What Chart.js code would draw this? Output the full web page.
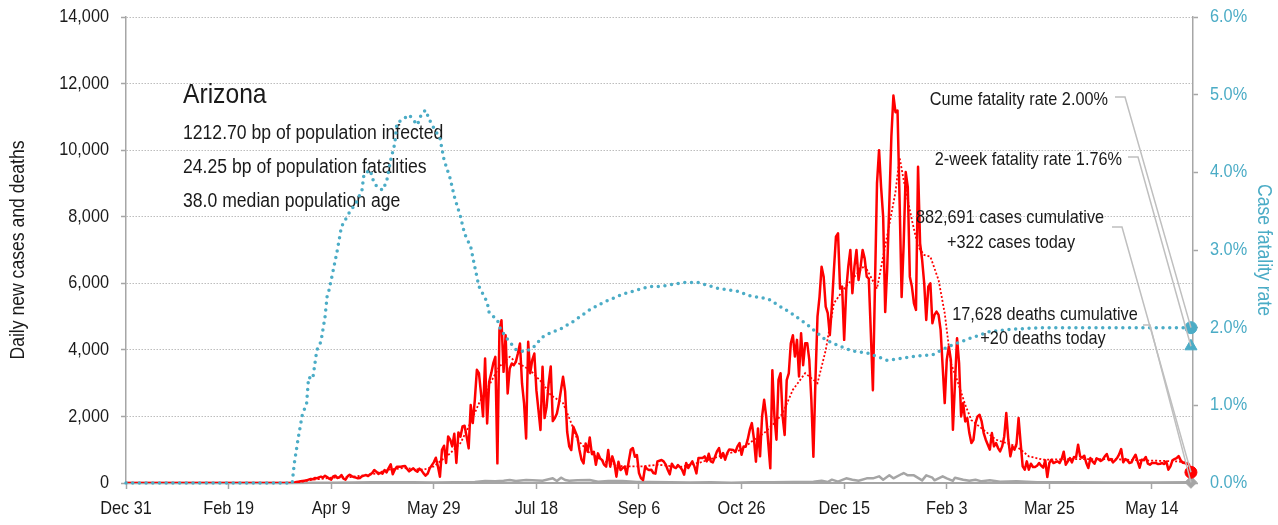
<!DOCTYPE html>
<html>
<head>
<meta charset="utf-8">
<title>Arizona - daily cases, deaths and case fatality rate</title>
<script src="https://cdn.jsdelivr.net/npm/chart.js@4.4.1/dist/chart.umd.min.js"></script>
<style>
  html, body { margin: 0; padding: 0; background: #fff; }
  #wrap { width: 1278px; height: 525px; }
</style>
</head>
<body>
<div id="wrap"><canvas id="covidChart" width="1278" height="525"></canvas></div>
<script>
// day 0 = Dec 31 2019, one tick every 50 days
const tickDays = [0, 50, 100, 150, 200, 250, 300, 350, 400, 450, 500];
const tickLabels = ['Dec 31', 'Feb 19', 'Apr 9', 'May 29', 'Jul 18', 'Sep 6', 'Oct 26', 'Dec 15', 'Feb 3', 'Mar 25', 'May 14'];
const lastDay = 519;

// daily new cases, one value per day starting at firstCaseDay (zero before)
const firstCaseDay = 82;
const newCases = [
  10, 30, 40, 50, 60, 70, 80, 100, 120, 110,
  150, 140, 170, 190, 160, 220, 180, 130, 100, 200,
  220, 150, 170, 240, 130, 100, 200, 250, 210, 180,
  160, 140, 150, 200, 220, 240, 210, 260, 300, 390,
  340, 270, 310, 280, 390, 320, 450,
  560, 260, 400, 490, 490, 490, 500, 510, 420, 350,
  400, 440, 380, 340, 430, 380, 290, 220, 280, 440,
  530, 620, 760, 500, 190, 1000, 1120, 600, 1400, 1300,
  1100, 1480, 600, 1520, 1390, 1700, 1720, 1400, 1040, 2340,
  1800, 2500, 3400, 3300, 2700, 2000, 3740, 1790, 3040, 3300,
  3600, 3790, 590, 4600, 4890, 3340, 4440, 2690, 3440, 3590,
  3540, 3640, 3900, 4190, 2990, 2390, 1340, 4240, 3300, 3700,
  3890, 2790, 2200, 1590, 3490, 1950, 2300, 3000, 3500, 1860,
  1950, 2090, 2400, 2800, 3190, 2750, 1540, 1100, 990, 1690,
  1540, 1390, 990, 700, 590, 1190, 940, 1370, 890, 940,
  550, 890, 750, 690, 550, 490, 990, 490, 800, 600,
  190, 640, 390, 450, 490, 260, 650, 1000, 1050, 790,
  840, 300, 140, 90, 490, 420, 390, 400, 300, 280, 650,
  670, 690, 650, 560, 400, 260, 580, 480, 450, 540,
  480, 400, 250, 600, 450, 550, 650, 500, 290, 750,
  750, 750, 800, 650, 880, 650, 620, 780, 950, 1050,
  760, 900, 700, 900, 1010, 1000, 990, 930, 1100, 1200,
  850, 1100, 1090, 1310, 1600, 1800, 1340, 640, 1640, 800,
  2000, 2500, 2000, 1200, 440, 3390, 2000, 1300, 3100, 3300,
  2000, 1440, 3090, 3290, 4200, 4440, 3800, 4300, 3200, 4500,
  3540, 4200, 4200, 3700, 2500, 790, 3090, 5000, 5600, 6500,
  6200, 5300, 5100, 4440, 5300, 6400, 7400, 7500, 5840, 5900,
  4300, 5800, 6500, 7000, 5700, 6500, 7000, 6100, 6500, 7000,
  6740, 6200, 6140, 4500, 2790, 5900, 9000, 10000, 8880, 8000,
  5140, 6490, 8390, 10400, 11640, 11140, 11190, 8500, 5590, 7190,
  9340, 8890, 6200, 5900, 5400, 5200, 9500,
  7200, 6700, 6000, 4900, 5900, 6000, 4800, 5050, 5150, 5050,
  4600, 3500, 2400, 3700, 4100, 3700, 1600, 3000, 4350, 3600,
  2000, 2400, 1850, 1950, 1500, 1200, 1300, 1800, 2000, 2050,
  1850, 1500, 1300, 1150, 1000, 1500, 1100, 1200, 1050, 950,
  1100, 1400, 2100, 1300, 800, 1100, 1000, 1180, 1950, 1200,
  500, 400, 650, 400, 580, 480, 480, 520, 600, 520,
  460, 680, 180, 600, 700, 600, 630, 650, 600, 720,
  940, 550, 650, 750, 620, 780, 770, 1150, 800, 760,
  820, 600, 450, 750, 650, 580, 740, 710, 660, 700,
  800, 870, 690, 720, 620, 680, 750, 860, 1020, 620,
  720, 680, 600, 620, 750, 850, 650, 460, 700, 690,
  780, 580, 550, 600, 600, 600, 570, 580, 600, 570,
  640, 400, 500, 680, 720, 750, 810, 680, 610, 600,
  580, 560, 322
];

// 7-day average of new cases (read at turning points)
const avgDays = [0, 82, 90, 100, 110, 120, 128, 135, 145, 150, 158, 163, 167, 172, 177, 182, 187, 190, 197, 203,
  207, 213, 217, 220, 226, 233, 242, 252, 259, 270, 280, 290, 300, 306, 311, 316, 320, 325, 331, 337,
  341, 345, 350, 355, 360, 366, 371, 375, 377, 379, 383, 386, 389, 392, 396, 399, 402, 405, 409, 412,
  418, 424, 434, 440, 447, 463, 479, 496, 512, 519];
const avgCases = [0, 0, 90, 160, 180, 260, 400, 450, 400, 500, 890, 1200, 1690, 2390, 2940, 3500, 3790, 3640, 3390, 3000,
  2640, 2400, 1800, 1300, 900, 650, 500, 500, 550, 480, 620, 820, 1000, 1300, 1500, 1800, 2090, 2800, 3300, 3000,
  3990, 5400, 5840, 6200, 6540, 5840, 7440, 8740, 9780, 9100, 7900, 7100, 6850, 6800, 6100, 5100, 3600, 3100, 2350, 1890,
  1590, 1300, 1100, 800, 700, 720, 720, 680, 650, 600];

// daily new deaths
const deathDays = [0, 80, 90, 100, 110, 120, 130, 140, 150, 160, 170, 175, 180, 184, 187, 190, 195, 198, 203, 208,
  210, 212, 214, 216, 220, 226, 230, 235, 242, 249, 255, 265, 275, 285, 295, 305, 315, 325, 335, 339,
  342, 344, 347, 351, 354, 357, 361, 364, 367, 369, 372, 374, 378, 379, 381, 384, 388, 390, 393, 394,
  398, 400, 403, 404, 408, 411, 414, 417, 421, 426, 434, 444, 460, 480, 500, 519];
const newDeaths = [0, 0, 5, 10, 15, 20, 20, 20, 15, 20, 30, 60, 50, 70, 90, 60, 90, 80, 70, 140,
  60, 160, 90, 70, 80, 90, 40, 60, 60, 30, 30, 20, 15, 20, 10, 20, 25, 30, 40, 66,
  30, 100, 40, 140, 100, 66, 140, 140, 200, 100, 230, 140, 270, 300, 230, 230, 80, 230, 160, 80,
  200, 140, 66, 160, 100, 66, 100, 50, 80, 40, 50, 20, 20, 15, 15, 20];

// case fatality rate, percent (right axis)
const cfrDays = [0, 81, 82, 83, 84, 86, 88, 89, 91, 93, 95, 97, 98, 99, 101, 103, 105, 109, 112, 115,
  116, 119, 121, 125, 127, 129, 131, 132, 138, 142, 144, 146, 148, 150, 153, 155, 158, 160, 163, 165,
  168, 170, 172, 176, 177, 181, 182, 185, 190, 194, 198, 203, 208, 211, 218, 226, 233, 242, 255, 260,
  272, 279, 288, 298, 304, 313, 319, 324, 332, 336, 341, 348, 354, 362, 371, 379, 387, 393, 401, 411,
  421, 431, 447, 519];
const cfrPct = [0, 0, 0.25, 0.42, 0.59, 0.89, 1.02, 1.36, 1.34, 1.71, 1.82, 2.14, 2.40, 2.49, 2.74, 3.00, 3.30, 3.49, 3.60, 3.77,
  3.98, 4.03, 3.85, 3.77, 3.88, 4.16, 4.37, 4.63, 4.74, 4.61, 4.75, 4.80, 4.67, 4.57, 4.44, 4.16, 3.92, 3.69, 3.43, 3.21,
  3.04, 2.78, 2.53, 2.33, 2.19, 2.10, 2.01, 1.88, 1.72, 1.69, 1.73, 1.88, 1.95, 1.97, 2.08, 2.23, 2.33, 2.43, 2.53, 2.53,
  2.58, 2.58, 2.51, 2.47, 2.41, 2.37, 2.27, 2.19, 2.04, 1.95, 1.84, 1.76, 1.70, 1.67, 1.58, 1.61, 1.64, 1.65, 1.76, 1.86,
  1.95, 1.98, 2.00, 2.00];

const stateName = 'Arizona';
const infoLines = ['1212.70 bp of population infected', '24.25 bp of population fatalities', '38.0 median population age'];
const leftTitle = 'Daily new cases and deaths';
const rightTitle = 'Case fatality rate';
const cumeRate = 2.00;
const twoWeekRate = 1.76;
const cumCases = 882691;
const cumDeaths = 17628;
const casesToday = newCases[newCases.length - 1];
const deathsToday = newDeaths[newDeaths.length - 1];

// no condensed face installed, so text is drawn squeezed horizontally
const FONT = '"Liberation Sans", Arial, sans-serif';
const SQUEEZE = 0.88;
const INK = '#1a1a1a';
const RED = '#ff0000';
const TEAL = '#4bacc6';
const GRAY = '#a5a5a5';
const AXIS = '#a6a6a6';

function toPoints(xs, ys) {
    return xs.map((x, i) => ({ x: x, y: ys[i] }));
}

const casePoints = [{ x: 0, y: 0 }, { x: firstCaseDay - 1, y: 0 }]
    .concat(newCases.map((v, i) => ({ x: firstCaseDay + i, y: v })));

function fmt(n) {
    return n.toLocaleString('en-US');
}

function drawText(ctx, str, x, y, size, align, color, baseline, rotation) {
    ctx.save();
    ctx.translate(x, y);
    if (rotation) ctx.rotate(rotation);
    ctx.scale(SQUEEZE, 1);
    ctx.font = size + 'px ' + FONT;
    ctx.fillStyle = color;
    ctx.textAlign = align;
    ctx.textBaseline = baseline || 'alphabetic';
    ctx.fillText(str, 0, 0);
    ctx.restore();
}

function leader(ctx, x0, y0, x1, tx, ty) {
    ctx.beginPath();
    ctx.moveTo(x0, y0);
    ctx.lineTo(x1, y0);
    ctx.lineTo(tx, ty);
    ctx.stroke();
}

const textPlugin = {
    id: 'textBlocks',
    beforeDatasetsDraw(chart) {
        const ctx = chart.ctx;
        drawText(ctx, stateName, 183, 103, 28, 'left', INK);
        infoLines.forEach((t, i) => drawText(ctx, t, 183, 139 + i * 34, 20, 'left', INK));
    },
    afterDraw(chart) {
        const ctx = chart.ctx;
        const xs = chart.scales.x, y = chart.scales.y, y2 = chart.scales.y2;
        const area = chart.chartArea;

        // axis tick labels and titles
        xs.ticks.forEach(t => {
            drawText(ctx, tickLabels[tickDays.indexOf(t.value)], xs.getPixelForValue(t.value), 514, 18.5, 'center', INK);
        });
        y.ticks.forEach(t => {
            drawText(ctx, fmt(t.value), area.left - 17, y.getPixelForValue(t.value), 18.5, 'right', INK, 'middle');
        });
        y2.ticks.forEach(t => {
            drawText(ctx, t.value.toFixed(1) + '%', area.right + 17, y2.getPixelForValue(t.value), 18.5, 'left', TEAL, 'middle');
        });
        const midY = (area.top + area.bottom) / 2;
        drawText(ctx, leftTitle, 18, midY, 20, 'center', INK, 'middle', -Math.PI / 2);
        drawText(ctx, rightTitle, 1264, midY, 20, 'center', TEAL, 'middle', Math.PI / 2);

        // leader lines from the notes to the end markers
        const px = xs.getPixelForValue(lastDay);
        ctx.save();
        ctx.strokeStyle = '#bfbfbf';
        ctx.lineWidth = 1.5;
        leader(ctx, 1115, 97, 1125, px, y2.getPixelForValue(cumeRate));
        leader(ctx, 1128, 157, 1138, px, y2.getPixelForValue(twoWeekRate));
        leader(ctx, 1112, 227, 1122, px, y.getPixelForValue(casesToday));
        leader(ctx, 1143, 325, 1150, px, y.getPixelForValue(deathsToday));
        ctx.restore();

        drawText(ctx, 'Cume fatality rate ' + cumeRate.toFixed(2) + '%', 1108, 105, 18.5, 'right', INK);
        drawText(ctx, '2-week fatality rate ' + twoWeekRate.toFixed(2) + '%', 1122, 165, 18.5, 'right', INK);
        drawText(ctx, fmt(cumCases) + ' cases cumulative', 1010, 223, 18.5, 'center', INK);
        drawText(ctx, '+' + fmt(casesToday) + ' cases today', 1011, 248, 18.5, 'center', INK);
        drawText(ctx, fmt(cumDeaths) + ' deaths cumulative', 1045, 320, 18.5, 'center', INK);
        drawText(ctx, '+' + fmt(deathsToday) + ' deaths today', 1043, 344, 18.5, 'center', INK);
    }
};

const ctx = document.getElementById('covidChart').getContext('2d');
new Chart(ctx, {
    type: 'line',
    data: {
        datasets: [
            {
                label: 'Cume fatality rate',
                data: [{ x: lastDay, y: cumeRate }],
                yAxisID: 'y2', showLine: false, clip: false,
                pointStyle: 'circle', pointRadius: 6,
                pointBackgroundColor: TEAL, pointBorderColor: TEAL
            },
            {
                label: '2-week fatality rate',
                data: [{ x: lastDay, y: twoWeekRate }],
                yAxisID: 'y2', showLine: false, clip: false,
                pointStyle: 'triangle', pointRadius: 7,
                pointBackgroundColor: TEAL, pointBorderColor: TEAL
            },
            {
                label: 'Cases today',
                data: [{ x: lastDay, y: casesToday }],
                yAxisID: 'y', showLine: false, clip: false,
                pointStyle: 'circle', pointRadius: 6,
                pointBackgroundColor: RED, pointBorderColor: RED
            },
            {
                label: 'Deaths today',
                data: [{ x: lastDay, y: deathsToday }],
                yAxisID: 'y', showLine: false, clip: false,
                pointStyle: 'rectRot', pointRadius: 6,
                pointBackgroundColor: GRAY, pointBorderColor: GRAY
            },
            {
                label: 'Case fatality rate',
                data: toPoints(cfrDays, cfrPct),
                yAxisID: 'y2',
                borderColor: TEAL, borderWidth: 3.5,
                borderDash: [0, 6.7], borderCapStyle: 'round',
                pointRadius: 0, clip: false
            },
            {
                label: 'Cases 7-day average',
                data: toPoints(avgDays, avgCases),
                yAxisID: 'y',
                borderColor: RED, borderWidth: 1.8,
                borderDash: [2, 2],
                pointRadius: 0
            },
            {
                label: 'Daily new cases',
                data: casePoints,
                yAxisID: 'y',
                borderColor: RED, borderWidth: 2.5,
                borderJoinStyle: 'round',
                pointRadius: 0
            },
            {
                label: 'Daily new deaths',
                data: toPoints(deathDays, newDeaths),
                yAxisID: 'y',
                borderColor: GRAY, borderWidth: 2.5,
                borderJoinStyle: 'round',
                pointRadius: 0, clip: false
            }
        ]
    },
    options: {
        responsive: false,
        animation: false,
        devicePixelRatio: 1,
        layout: { padding: { top: 17, left: 0, right: 0, bottom: 0 } },
        plugins: {
            legend: { display: false },
            tooltip: { enabled: false }
        },
        scales: {
            x: {
                type: 'linear',
                min: 0,
                max: 520,
                afterBuildTicks: s => { s.ticks = tickDays.map(v => ({ value: v })); },
                afterFit: s => { s.height = 42; },
                ticks: { display: false },
                grid: { drawOnChartArea: false, tickLength: 6, tickColor: AXIS, tickWidth: 1.5 },
                border: { color: AXIS, width: 2 }
            },
            y: {
                position: 'left',
                min: 0,
                max: 14000,
                afterFit: s => { s.width = 126; },
                ticks: { display: false, stepSize: 2000 },
                grid: { color: '#bdbdbd', lineWidth: 1, tickLength: 5, tickColor: AXIS, tickWidth: 1.5 },
                border: { color: AXIS, width: 1.5, dash: [1.5, 1.5] }
            },
            y2: {
                position: 'right',
                min: 0,
                max: 6,
                afterFit: s => { s.width = 85; },
                ticks: { display: false, stepSize: 1 },
                grid: { drawOnChartArea: false, tickLength: 5, tickColor: AXIS, tickWidth: 1.5 },
                border: { color: AXIS, width: 1.5 }
            }
        }
    },
    plugins: [textPlugin]
});
</script>
</body>
</html>
